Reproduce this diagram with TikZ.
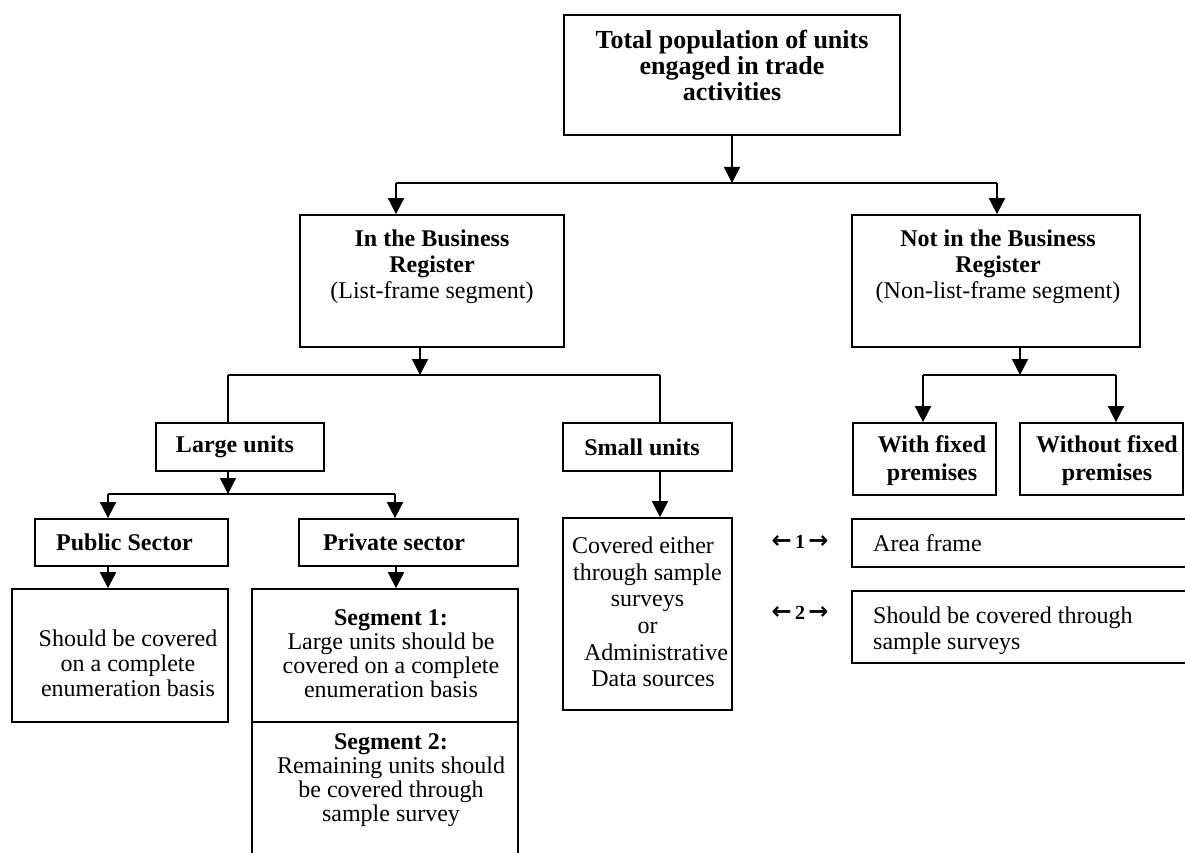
\documentclass[tikz,border=0pt]{standalone}
\usepackage{fontspec}
\setmainfont{Liberation Serif}
\newfontfamily\arrowfont{DejaVu Sans}
\usetikzlibrary{arrows.meta}
\begin{document}
\begin{tikzpicture}[x=1pt,y=-1pt,
  box/.style={draw, line width=1.7pt, inner sep=0pt},
  conn/.style={line width=1.7pt},
  arr/.style={line width=1.7pt, -{Triangle[length=16pt,width=16pt]}},
  txt/.style={align=center, inner sep=0pt, font=\fontsize{24}{26}\selectfont},
  ttl/.style={align=center, inner sep=0pt, font=\bfseries\fontsize{24}{26}\selectfont},
  num/.style={inner sep=0pt, font=\bfseries\fontsize{20}{22}\selectfont}]
\useasboundingbox (0,0) rectangle (1185,853);
\clip (0,0) rectangle (1185,853);
\fill[white] (0,0) rectangle (1185,853);

% boxes
\node[box, minimum width=336pt, minimum height=120pt] (top) at (732,75) {};
\node[box, minimum width=264pt, minimum height=132pt] (lb) at (432,281) {};
\node[box, minimum width=288pt, minimum height=132pt] (rb) at (996,281) {};
\node[box, minimum width=168pt, minimum height=48pt] (large) at (240,447) {};
\node[box, minimum width=169pt, minimum height=48pt] (small) at (647.5,447) {};
\node[box, minimum width=143pt, minimum height=72pt] (withf) at (924.5,459) {};
\node[box, minimum width=163pt, minimum height=72pt] (withoutf) at (1101.5,459) {};
\node[box, minimum width=193pt, minimum height=47pt] (public) at (131.5,542.5) {};
\node[box, minimum width=219pt, minimum height=47pt] (private) at (408.5,542.5) {};
\node[box, minimum width=216pt, minimum height=133pt] (pubtext) at (120,655.5) {};
\node[box, minimum width=266pt, minimum height=291pt] (seg) at (385,734.5) {};
\node[box, minimum width=169pt, minimum height=192pt] (smalltext) at (647.5,614) {};
\node[box, minimum width=348pt, minimum height=48pt] (area) at (1026,543) {};
\node[box, minimum width=348pt, minimum height=72pt] (should) at (1026,627) {};
\coordinate (segdivL) at (252,722);
\coordinate (segdivR) at (518,722);
\draw[conn] (segdivL) -- (segdivR);

% texts
\node[ttl, font=\bfseries\fontsize{26}{26}\selectfont] (ttop) at (732,65) {Total population of units\\engaged in trade\\activities};
\node[txt] (tlb) at (432,267) {\textbf{In the Business}\\\textbf{Register}\\(List-frame segment)};
\node[txt] (trb) at (998,267) {\textbf{Not in the Business}\\\textbf{Register}\\(Non-list-frame segment)};
\node[ttl] (tlarge) at (235,447) {Large units};
\node[ttl] (tsmall) at (642,447) {Small units};
\node[ttl, font=\bfseries\fontsize{24}{28}\selectfont] (twithf) at (932,461) {With fixed\\premises};
\node[ttl, font=\bfseries\fontsize{24}{28}\selectfont] (twithoutf) at (1107,461) {Without fixed\\premises};
\node[ttl] (tpublic) at (124.5,542) {Public Sector};
\node[ttl] (tprivate) at (394,542) {Private sector};
\node[txt, font=\fontsize{24}{25}\selectfont] (tpubtext) at (128,663) {Should be covered\\on a complete\\enumeration basis};
\node[txt, font=\fontsize{24}{24}\selectfont] (tseg1) at (391,654) {\textbf{Segment 1:}\\Large units should be\\covered on a complete\\enumeration basis};
\node[txt, font=\fontsize{24}{24}\selectfont] (tseg2) at (391,780) {\textbf{Segment 2:}\\Remaining units should\\be covered through\\sample survey};
\node[txt, font=\fontsize{24}{26.6}\selectfont] (tsmalltext) at (647.5,612) {Covered either\hspace*{9pt}\\through sample\\surveys\hspace*{7pt}\\or\hspace*{17pt}\\\hspace*{17pt}Administrative\\\hspace*{11pt}Data sources};
\node[txt, anchor=west] (tarea) at (873,543) {Area frame};
\node[txt, anchor=west, align=left] (tshould) at (873,631) {Should be covered through\\sample surveys};
\node[num] (n1) at (800,542) {{\arrowfont\fontsize{24}{24}\selectfont ←}\,1\,{\arrowfont\fontsize{24}{24}\selectfont →}};
\node[num] (n2) at (800,613) {{\arrowfont\fontsize{24}{24}\selectfont ←}\,2\,{\arrowfont\fontsize{24}{24}\selectfont →}};

% connectors
\coordinate (j1) at (732,183);
\coordinate (j1L) at (396,183);
\coordinate (j1R) at (997,183);
\draw[arr] (top.south) -- (j1);
\draw[conn] (j1L) -- (j1R);
\draw[arr] (j1L) -- (j1L |- lb.north);
\draw[arr] (j1R) -- (j1R |- rb.north);

\coordinate (j2) at (420,375);
\coordinate (j2L) at (228,375);
\coordinate (j2R) at (660,375);
\draw[arr] (j2 |- lb.south) -- (j2);
\draw[conn] (j2L) -- (j2R);
\draw[conn] (j2L) -- (j2L |- large.north);
\draw[conn] (j2R) -- (j2R |- small.north);

\coordinate (j3) at (1020,375);
\coordinate (j3L) at (923,375);
\coordinate (j3R) at (1116,375);
\draw[arr] (j3 |- rb.south) -- (j3);
\draw[conn] (j3L) -- (j3R);
\draw[arr] (j3L) -- (j3L |- withf.north);
\draw[arr] (j3R) -- (j3R |- withoutf.north);

\coordinate (j4) at (228,494);
\coordinate (j4L) at (108,494);
\coordinate (j4R) at (395,494);
\draw[arr] (j4 |- large.south) -- (j4);
\draw[conn] (j4L) -- (j4R);
\draw[arr] (j4L) -- (j4L |- public.north);
\draw[arr] (j4R) -- (j4R |- private.north);

\coordinate (p1) at (108,566);
\draw[arr] (p1) -- (p1 |- pubtext.north);
\coordinate (p2) at (396,566);
\draw[arr] (p2) -- (p2 |- seg.north);
\coordinate (p3) at (660,471);
\draw[arr] (p3) -- (p3 |- smalltext.north);
\end{tikzpicture}
\end{document}
